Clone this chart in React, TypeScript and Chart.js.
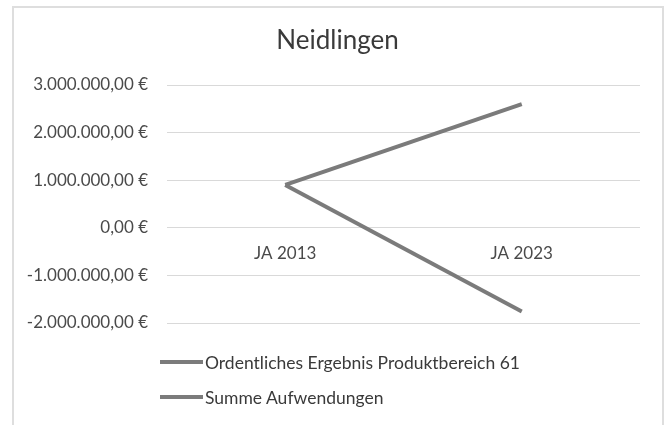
import React, { useEffect, useRef } from "react";
import { Chart, registerables } from "chart.js";

Chart.register(...registerables);

const title = "Neidlingen";
const categories = ["JA 2013", "JA 2023"];
const seriesNames = ["Ordentliches Ergebnis Produktbereich 61", "Summe Aufwendungen"];
const ergebnisValues = [900000, -1760000];
const aufwendungenValues = [900000, 2600000];
const yTickValues = [3000000, 2000000, 1000000, 0, -1000000, -2000000];
const yTickLabels = ["3.000.000,00 €", "2.000.000,00 €", "1.000.000,00 €", "0,00 €", "-1.000.000,00 €", "-2.000.000,00 €"];
const lineColors = ["#7b7b7b", "#7b7b7b"];

const FONT = "Lato, 'Open Sans', sans-serif";

export default function App() {
  const ref = useRef<HTMLCanvasElement | null>(null);

  useEffect(() => {
    if (!ref.current) return;
    const chart = new Chart(ref.current, {
      type: "line",
      data: {
        labels: categories,
        datasets: [
          {
            label: seriesNames[0],
            data: ergebnisValues,
            borderColor: lineColors[0],
            backgroundColor: lineColors[0],
            borderWidth: 4,
            pointRadius: 0,
            tension: 0,
          },
          {
            label: seriesNames[1],
            data: aufwendungenValues,
            borderColor: lineColors[1],
            backgroundColor: lineColors[1],
            borderWidth: 4,
            pointRadius: 0,
            tension: 0,
          },
        ],
      },
      options: {
        responsive: false,
        animation: false,
        devicePixelRatio: 1,
        layout: { padding: { top: 85, left: 0, right: 26, bottom: 102 } },
        plugins: {
          legend: { display: false },
          tooltip: { enabled: false },
          title: { display: false },
        },
        scales: {
          x: {
            type: "category",
            offset: true,
            position: { y: 0 } as any,
            grid: { display: false, drawTicks: false },
            border: { display: false },
            ticks: {
              color: "#4a4a4a",
              font: { family: FONT, size: 17 },
              padding: 16,
              maxRotation: 0,
            },
          },
          y: {
            min: -2000000,
            max: 3000000,
            afterFit: (scale: any) => {
              scale.width = 167;
            },
            afterBuildTicks: (scale: any) => {
              scale.ticks = yTickValues.map((v) => ({ value: v }));
            },
            grid: { color: "#d9d9d9", lineWidth: 1, drawTicks: false },
            border: { display: false },
            ticks: {
              color: "#4a4a4a",
              font: { family: FONT, size: 17 },
              padding: 19,
              callback: (value: any) => {
                const i = yTickValues.indexOf(Number(value));
                return i >= 0 ? yTickLabels[i] : "";
              },
            },
          },
        },
      },
    });
    return () => chart.destroy();
  }, []);

  return (
    <div style={{ position: "fixed", left: 0, top: 0, width: 666, height: 425, background: "#fff", overflow: "hidden" }}>
      <div
        style={{
          position: "absolute",
          left: 12,
          top: 6,
          width: 648,
          height: 460,
          border: "2px solid #dedede",
        }}
      />
      <canvas ref={ref} width={666} height={425} style={{ position: "absolute", left: 0, top: 0, width: 666, height: 425 }} />
      <div
        style={{
          position: "absolute",
          left: 13,
          width: 649,
          top: 24,
          textAlign: "center",
          fontFamily: FONT,
          fontSize: 26,
          lineHeight: 1.2,
          color: "#3a3a3a",
        }}
      >
        {title}
      </div>
      {seriesNames.map((name, i) => (
        <div
          key={name}
          style={{
            position: "absolute",
            left: 160,
            top: 350 + i * 35,
            height: 24,
            display: "flex",
            alignItems: "center",
            fontFamily: FONT,
            fontSize: 17.5,
            color: "#3a3a3a",
            whiteSpace: "nowrap",
          }}
        >
          <span style={{ display: "inline-block", width: 43, height: 4, background: lineColors[i], marginRight: 2 }} />
          <span>{name}</span>
        </div>
      ))}
    </div>
  );
}
